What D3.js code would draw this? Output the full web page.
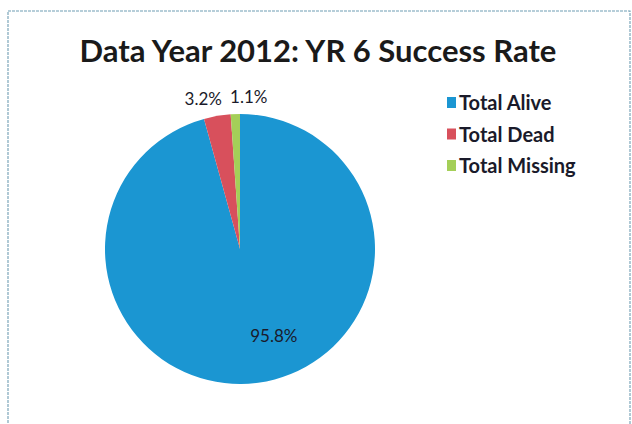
<!DOCTYPE html>
<html>
<head>
<meta charset="utf-8">
<script src="https://cdn.jsdelivr.net/npm/d3@7"></script>
<style>
	body { margin: 0; background: #fff; }
	svg { display: block; }
</style>
</head>
<body>
<div id="chart"></div>
<script>
// Data
var categories = ["Total Alive", "Total Dead", "Total Missing"];
var values = [95.8, 3.2, 1.1];
var colors = ["#1b96d2", "#d8505c", "#a4cf58"];

// Canvas parameters
var canvas = {
	width: 632,
	height: 424,
	cx: 240, // pie centre
	cy: 249,
	radius: 135
};
var font = "Lato, 'Open Sans', sans-serif";

var svg = d3.select("#chart")
	.append("svg")
	.attr("width", canvas.width)
	.attr("height", canvas.height);

// Frame (scanned chart border)
svg.append("rect")
	.attr("x", 8)
	.attr("y", 11)
	.attr("width", 622)
	.attr("height", 420)
	.attr("fill", "none")
	.attr("stroke", "#6f9db3")
	.attr("stroke-width", 1.1)
	.attr("stroke-dasharray", "3,1");

// Title
svg.append("text")
	.text("Data Year 2012: YR 6 Success Rate")
	.attr("x", 318)
	.attr("y", 62)
	.attr("text-anchor", "middle")
	.attr("font-family", font)
	.attr("font-weight", "bold")
	.attr("font-size", "31px")
	.attr("fill", "#1a1a1a");

// Pie
var pie = d3.pie().sort(null).value(function(d) { return d; });
var arcs = pie(values);
var arc = d3.arc().innerRadius(0).outerRadius(canvas.radius);

var g = svg.append("g")
	.attr("transform", "translate(" + canvas.cx + "," + canvas.cy + ")");

g.selectAll("slice")
	.data(arcs)
	.enter()
	.append("path")
	.attr("class", "slice")
	.attr("d", arc)
	.attr("fill", function(d, i) {
		return colors[i];
	});

// Slice labels: big one inside, small ones above the pie
var labelPos = [
	d3.arc().innerRadius(canvas.radius * 0.65).outerRadius(canvas.radius * 0.65),
	d3.arc().innerRadius(canvas.radius * 1.13).outerRadius(canvas.radius * 1.13),
	d3.arc().innerRadius(canvas.radius * 1.13).outerRadius(canvas.radius * 1.13)
];
var labelShift = [22, -11, 14];
g.selectAll("label")
	.data(arcs)
	.enter()
	.append("text")
	.text(function(d) {
		return d.value.toFixed(1) + "%";
	})
	.attr("x", function(d, i) {
		return labelPos[i].centroid(d)[0] + labelShift[i];
	})
	.attr("y", function(d, i) {
		return labelPos[i].centroid(d)[1] + 6;
	})
	.attr("text-anchor", "middle")
	.attr("font-family", font)
	.attr("font-size", "17px")
	.attr("fill", "#1a1a2a");

// Legend
var legend = svg.selectAll("legend_item")
	.data(categories)
	.enter()
	.append("g")
	.attr("class", "legend_item")
	.attr("transform", function(d, i) {
		return "translate(447," + (103 + i * 31.5) + ")";
	});
legend.append("rect")
	.attr("x", 0)
	.attr("y", -6)
	.attr("width", 9)
	.attr("height", 11)
	.attr("fill", function(d, i) {
		return colors[i];
	});
legend.append("text")
	.text(function(d) { return d; })
	.attr("x", 12)
	.attr("y", 7)
	.attr("font-family", font)
	.attr("font-weight", "bold")
	.attr("font-size", "20px")
	.attr("fill", "#1a1a2a");
</script>
</body>
</html>
